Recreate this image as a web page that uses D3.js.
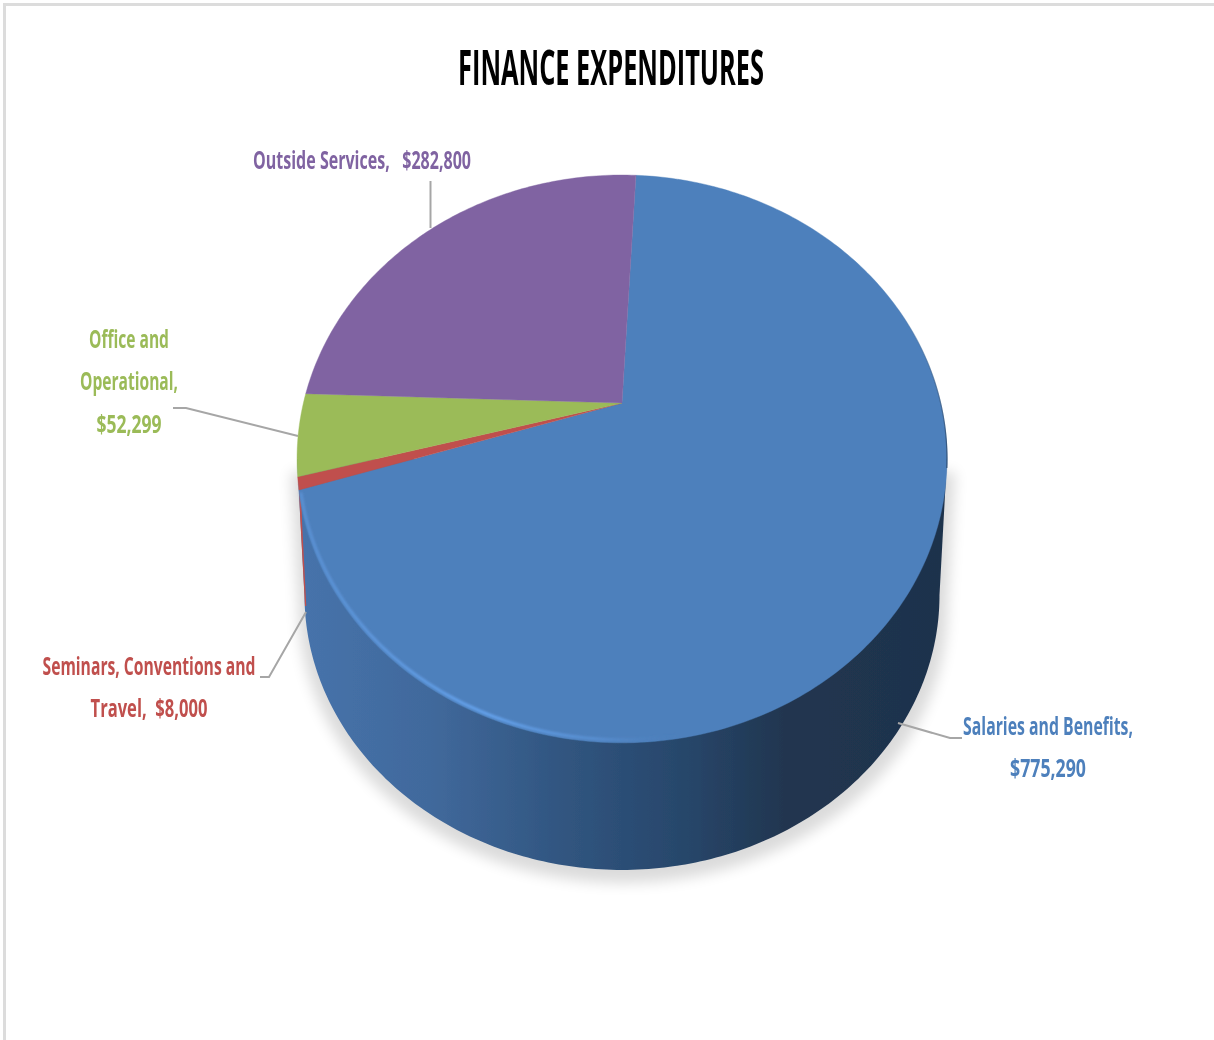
<!DOCTYPE html>
<html><head><meta charset="utf-8">
<script src="https://cdn.jsdelivr.net/npm/d3@7"></script>
<style>html,body{margin:0;padding:0;background:#fff;overflow:hidden}svg{display:block}text{font-family:"Open Sans",sans-serif}</style>
</head><body><svg id="c" width="1214" height="1040"></svg>
<script>
const chartTitle = "FINANCE EXPENDITURES";
const categories = ["Salaries and Benefits","Seminars, Conventions and Travel","Office and Operational","Outside Services"];
const values = [775290, 8000, 52299, 282800];
const colors = ["#4e80bc","#c0504d","#9bbb59","#8064a2"];
const labelLines = [["Salaries and Benefits,","$775,290"],["Seminars, Conventions and","Travel,  $8,000"],["Office and","Operational,","$52,299"],["Outside Services,   $282,800"]];

const svg = d3.select("#c");
const defs = svg.append("defs");
const mkBlur=(id,sd)=>defs.append("filter").attr("id",id).attr("x","-20%").attr("y","-20%").attr("width","140%").attr("height","140%").append("feGaussianBlur").attr("stdDeviation",sd);
mkBlur("soft",7); mkBlur("edge",1.1); mkBlur("fine",0.6);
const sideStops = [[0,"#4673ab"],[0.2,"#41699c"],[0.4,"#315681"],[0.6,"#27466a"],[0.75,"#213650"],[1,"#1e324c"]];
const grad = defs.append("linearGradient").attr("id","side").attr("gradientUnits","userSpaceOnUse").attr("x1",300).attr("x2",945).attr("y1",0).attr("y2",0);
sideStops.forEach(s=>grad.append("stop").attr("offset",s[0]).attr("stop-color",s[1]));
const glow = defs.append("linearGradient").attr("id","rim").attr("gradientUnits","userSpaceOnUse").attr("x1",300).attr("x2",680).attr("y1",0).attr("y2",0);
[[0,"#5a90d2",1],[0.5,"#64a2ec",1],[0.78,"#5c95da",0.7],[1,"#4e80bc",0]].forEach(s=>glow.append("stop").attr("offset",s[0]).attr("stop-color",s[1]).attr("stop-opacity",s[2]));
const hair = defs.append("linearGradient").attr("id","hair").attr("gradientUnits","userSpaceOnUse").attr("x1",0).attr("x2",0).attr("y1",300).attr("y2",460);
[[0,"#35587f",0],[1,"#2f5078",1]].forEach(s=>hair.append("stop").attr("offset",s[0]).attr("stop-color",s[1]).attr("stop-opacity",s[2]));

// Frame
svg.append("rect").attr("x",3).attr("y",3).attr("width",1211).attr("height",3).attr("fill","#dcdcdc");
svg.append("rect").attr("x",3).attr("y",3).attr("width",3).attr("height",1037).attr("fill","#dcdcdc");

const root = svg.append("g").attr("filter","url(#fine)");

// Perspective disc projection
const cx=622, apexY=403, persp=-0.197, fy=193.5, fx=318.6;
function proj(a, s=1, dy=0, ys=1){
  const u=Math.sin(a), v=-Math.cos(a), w=1+persp*v;
  const x=cx+fx*u/w, y=(fy*v+apexY)/w;
  return [cx+(x-cx)*s, 459+(y-459)*ys+dy];
}
const pie = d3.pie().value(d=>d).sort(null).startAngle(3*Math.PI/180).endAngle(363*Math.PI/180);
const arcs = pie(values);
const line = d3.line();
const sample=(a0,a1,n=Math.max(4,Math.ceil(Math.abs(a1-a0)*60)))=>d3.range(n+1).map(i=>a0+(a1-a0)*i/n);

const S=0.977, YS=0.968, DY=136.2;
const bottom=a=>proj(a,S,DY,YS);
const aR=Math.PI/2+Math.asin(0.197), aL=2*Math.PI-aR;
// Side silhouette: widest points of top ellipse joined to the widest points of the lower ellipse
const lowerB=sample(aR,aL,200).map(bottom);
const hull=[proj(aR),...lowerB,proj(aL)];

// Shadow
const shadow=hull.map(p=>[cx+(p[0]-cx)*1.022+1,p[1]+13]);
root.append("path").attr("d",line(shadow)+"Z").attr("fill","#000").attr("opacity",0.14).attr("filter","url(#soft)");

// Side wall
root.append("path").attr("d",line(hull)+"Z").attr("fill","url(#side)");
// Seminars sliver on the wall (left edge)
root.append("path").attr("d",line([[298.8,488],[300.6,525],[305,606],[306.3,606],[302.2,525],[301,490]])+"Z").attr("fill",colors[1]);

// Leader lines
const leaders=[[[898,723],[950,738],[962,738]],[[306,612],[269,677],[260,677]],[[298,436],[186,408],[173,408]],[[430.5,181],[430.5,228]]];
root.append("g").selectAll("path").data(leaders).join("path").attr("d",d=>line(d)).attr("fill","none").attr("stroke","#a6a6a6").attr("stroke-width",2);

// Top face slices
root.append("g").selectAll("path").data(arcs).join("path")
  .attr("d",d=>line([[cx,apexY],...sample(d.startAngle,d.endAngle).map(a=>proj(a))])+"Z")
  .attr("fill",(d,i)=>colors[i]).attr("stroke",(d,i)=>colors[i]).attr("stroke-width",0.4);

// Rim highlight on the lower left of the top face
const rimPts=sample(arcs[0].endAngle-0.02,Math.PI-0.3,120).map(a=>proj(a,0.996,-2,0.996));
root.append("path").attr("d",line(rimPts)).attr("fill","none").attr("stroke","url(#rim)").attr("stroke-width",3).attr("stroke-linecap","round").attr("filter","url(#edge)");
// Dark hairline on the right edge
root.append("path").attr("d",line(sample(1.05,1.8).map(a=>proj(a)))).attr("fill","none").attr("stroke","url(#hair)").attr("stroke-width",1.2);

// Text, squeezed horizontally to the reference's narrow letterforms
const txt=(s,x,y,w,size,fill,weight)=>{
  const t=root.append("text").attr("text-anchor","middle").attr("font-size",size).attr("font-weight",weight).attr("fill",fill).style("white-space","pre").text(s);
  const k=w/t.node().getComputedTextLength();
  t.attr("transform",`translate(${x},${y}) scale(${k},1)`);
};
txt(chartTitle,611,84.5,306,48,"#000",700);

const labelBox=[
 [[1048,735,170],[1048,777,76]],
 [[149,675,213],[149,717,117]],
 [[129,348,80],[129,390,98],[129,433,65]],
 [[362,169,218]]];
labelLines.forEach((ls,i)=>ls.forEach((s,j)=>{const b=labelBox[i][j];txt(s,b[0],b[1],b[2],25,colors[i],700);}));
</script></body></html>
